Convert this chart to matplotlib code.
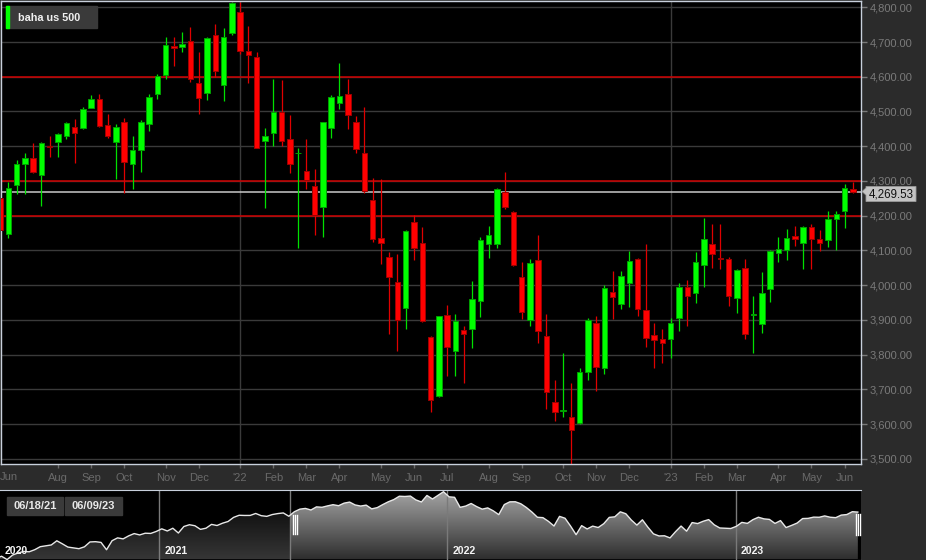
import numpy as np
import pandas as pd
import matplotlib
matplotlib.use("Agg")
import matplotlib.pyplot as plt
import matplotlib.dates as mdates
from matplotlib.patches import PathPatch, Rectangle, Polygon
from matplotlib.path import Path
from matplotlib.lines import Line2D

plt.rcParams['font.family'] = ['Liberation Sans', 'DejaVu Sans']

# ---------------- data ----------------
title = "baha us 500"
first_week = "2021-06-14"
opens = [4250, 4146, 4287, 4348, 4367, 4318, 4401, 4413, 4428, 4456,
         4452, 4511, 4535, 4460, 4413, 4470, 4350, 4388, 4464, 4549,
         4605, 4688, 4686, 4702, 4583, 4552, 4719, 4576, 4725, 4786,
         4675, 4656, 4416, 4437, 4499, 4420, 4379, 4329, 4284, 4226,
         4453, 4525, 4550, 4470, 4381, 4245, 4136, 4081, 4010, 3933,
         4182, 4120, 3851, 3682, 3913, 3809, 3872, 3875, 3954, 4117,
         4117, 4267, 4211, 4022, 3901, 4073, 3854, 3663, 3639, 3620,
         3604, 3750, 3891, 3760, 3980, 3946, 4005, 4075, 3928, 3856,
         3846, 3845, 3905, 3994, 3976, 4058, 4119, 4079, 4076, 3963,
         4049, 3913, 3889, 3988, 4092, 4101, 4142, 4120, 4168, 4133,
         4130, 4190, 4214, 4277]
highs = [4262, 4298, 4359, 4380, 4408, 4413, 4429, 4439, 4471, 4477,
         4512, 4548, 4549, 4492, 4463, 4480, 4428, 4476, 4549, 4608,
         4715, 4714, 4728, 4742, 4670, 4715, 4751, 4739, 4814, 4816,
         4746, 4672, 4452, 4593, 4591, 4489, 4394, 4420, 4333, 4470,
         4548, 4639, 4593, 4487, 4512, 4308, 4305, 4095, 4090, 4160,
         4202, 4166, 3853, 3912, 3942, 3916, 3881, 4012, 4138, 4169,
         4280, 4325, 4214, 4068, 4074, 4143, 3916, 3726, 3804, 3717,
         3761, 3905, 3912, 3999, 4040, 4042, 4099, 4077, 4119, 3890,
         3874, 3905, 4005, 4015, 4094, 4192, 4175, 4175, 4082, 4045,
         4076, 3970, 4037, 4101, 4140, 4161, 4171, 4170, 4175, 4159,
         4213, 4213, 4290, 4296]
lows = [4152, 4135, 4261, 4261, 4322, 4229, 4370, 4370, 4420, 4351,
        4449, 4509, 4455, 4425, 4305, 4266, 4276, 4327, 4444, 4535,
        4593, 4631, 4670, 4584, 4492, 4533, 4598, 4530, 4721, 4665,
        4581, 4394, 4221, 4402, 4401, 4324, 4106, 4277, 4144, 4138,
        4423, 4506, 4449, 4380, 4266, 4123, 4060, 3858, 3809, 3873,
        4072, 3895, 3636, 3679, 3737, 3739, 3719, 3818, 3909, 4077,
        4106, 4218, 4056, 3902, 3883, 3833, 3644, 3610, 3619, 3482,
        3600, 3727, 3696, 3743, 3902, 3930, 3936, 3910, 3823, 3761,
        3777, 3791, 3869, 3883, 3948, 3996, 4048, 4046, 3940, 3919,
        3844, 3806, 3863, 3950, 4068, 4071, 4113, 4047, 4046, 4097,
        4109, 4101, 4164, 4264]
closes = [4159, 4279, 4348, 4367, 4325, 4408, 4397, 4434, 4466, 4439,
          4507, 4535, 4459, 4430, 4454, 4355, 4388, 4469, 4543, 4602,
          4691, 4684, 4695, 4593, 4538, 4711, 4617, 4715, 4811, 4675,
          4662, 4396, 4429, 4498, 4415, 4348, 4381, 4303, 4202, 4469,
          4542, 4544, 4490, 4391, 4271, 4132, 4122, 4023, 3900, 4156,
          4106, 3898, 3670, 3910, 3822, 3897, 3860, 3961, 4129, 4144,
          4277, 4226, 4058, 3924, 4065, 3868, 3692, 3636, 3641, 3584,
          3750, 3899, 3763, 3991, 3965, 4026, 4070, 3932, 3848, 3841,
          3834, 3891, 3996, 3970, 4068, 4133, 4090, 4075, 3969, 4044,
          3859, 3916, 3978, 4098, 4103, 4136, 4132, 4168, 4133, 4122,
          4190, 4204, 4280, 4269.53]

# navigator history before the candle window (weekly closes, from 2020-06-08)
nav_start_week = "2020-06-08"
nav_history = [3041, 3098, 3009, 3130, 3185, 3225, 3216, 3271, 3351, 3373,
               3397, 3508, 3427, 3341, 3319, 3298, 3348, 3477, 3484, 3465,
               3270, 3510, 3585, 3558, 3638, 3699, 3663, 3709, 3703, 3756,
               3825, 3768, 3841, 3714, 3887, 3934, 3907, 3811, 3842, 3943,
               3913, 3975, 4020, 4129, 4185, 4180, 4181, 4233, 4174, 4156,
               4204, 4230, 4247]
level_lines = [4600, 4300, 4200]
price_ticks = list(range(3500, 4801, 100))
range_labels = ["06/18/21", "06/09/23"]
nav_years = ["2020", "2021", "2022", "2023"]

# ---------------- figure ----------------
W, H = 926, 560
BG = '#2b2b2b'
fig = plt.figure(figsize=(W / 100, H / 100), dpi=100, facecolor=BG)


def fx(px):
    return px / W


def fy(py):
    return 1 - py / H


ax = fig.add_axes([fx(1), fy(463.5), fx(861) - fx(1), fy(1) - fy(463.5)])
ax.set_facecolor('black')

n = len(closes)
idx = np.arange(n)
o = np.array(opens, float)
h = np.array(highs, float)
l = np.array(lows, float)
c = np.array(closes, float)
up = c >= o

GREEN, GREEN_E = '#00ff00', '#00a000'
RED, RED_E = '#ff0000', '#a00000'

# grid
for v in price_ticks:
    ax.axhline(v, color='#3a3a3a', lw=1.0, zorder=1)

dates = pd.date_range(first_week, periods=n, freq='W-MON')
fridays = dates + pd.Timedelta(days=4)
xt, xl = [], []
for i in range(1, n):
    if fridays[i].month != fridays[i - 1].month and i > 3:
        xt.append(i)
        if fridays[i].month == 1:
            xl.append("'" + fridays[i].strftime('%y'))
            ax.axvline(i, color='#3a3a3a', lw=1.0, zorder=1)
        else:
            xl.append(fridays[i].strftime('%b'))

for v in level_lines:
    ax.axhline(v, color='#d00000', lw=1.1, zorder=1.5)
ax.axhline(c[-1], color='#c8c8c8', lw=1.1, zorder=1.6)

# candles
wcol = np.where(up, '#00e000', '#e00000')
ax.vlines(idx, l, h, colors=wcol, lw=0.9, zorder=2)
body_bottom = np.minimum(o, c)
body_h = np.maximum(np.abs(c - o), 2.5)
ax.bar(idx, body_h, bottom=body_bottom, width=0.66,
       color=np.where(up, GREEN, RED), edgecolor=np.where(up, GREEN_E, RED_E),
       linewidth=0.7, zorder=3)

ax.set_xlim((1 - 0.02) / 8.28, (861 - 0.02) / 8.28)
ax.set_ylim(3486.4, 4818.1)

ax.yaxis.tick_right()
ax.set_yticks(price_ticks)
ax.set_yticklabels([f"{v:,.2f}" for v in price_ticks])
ax.tick_params(axis='y', colors='#7a7a7a', labelsize=8, length=4, width=1, pad=2)
ax.set_xticks(xt)
ax.set_xticklabels(xl)
ax.tick_params(axis='x', colors='#6a6a6a', labelsize=8, length=3, width=1, pad=4)
for s in ax.spines.values():
    s.set_color('#c8d0dc')
    s.set_linewidth(1.0)
fig.text(fx(0), fy(477), dates[0].strftime('%b'), color='#6a6a6a', fontsize=8,
         ha='left', va='center')

# title box
fig.add_artist(Rectangle((fx(6), fy(28)), fx(97) - fx(6), fy(6) - fy(28),
                         transform=fig.transFigure, color='#3a3a3a', zorder=5))
fig.add_artist(Rectangle((fx(6), fy(28)), fx(9.3) - fx(6), fy(6) - fy(28),
                         transform=fig.transFigure, color='#00ff00', zorder=6))
fig.text(fx(18), fy(18), title, color='#f0f0f0', fontsize=7.8, weight='bold',
         ha='left', va='center', zorder=7)

# current price label
fig.canvas.draw()
yp = ax.transData.transform((0, c[-1]))[1]
yc = yp - 2.5
pts = [(862, yp), (866, yp + 3.5), (866, yc + 7.5), (916, yc + 7.5),
       (916, yc - 7.5), (866, yc - 7.5), (866, yp - 3.5)]
fig.add_artist(Polygon([(px / W, py / H) for px, py in pts], closed=True,
                       transform=fig.transFigure, facecolor='#c4c4c4',
                       edgecolor='#9a9a9a', linewidth=0.6, zorder=8))
fig.text(fx(891), yc / H, f"{c[-1]:,.2f}", color='#111111', fontsize=8.3,
         ha='center', va='center', zorder=9)

# ---------------- navigator ----------------
nav = fig.add_axes([0, fy(559.5), fx(861), fy(490) - fy(559.5)])
nav.set_facecolor('black')
nav_dates = list(pd.date_range(nav_start_week, periods=len(nav_history), freq='W-MON')) + list(dates)
nav_vals = np.array(list(nav_history) + list(closes), float)
nx = mdates.date2num(nav_dates)
xmin = mdates.date2num(pd.Timestamp('2020-06-13'))
xmax = mdates.date2num(pd.Timestamp('2023-06-09'))
ymin, ymax = 3011, 4856
sel = mdates.date2num(pd.Timestamp('2021-06-16'))

verts = [(nx[0], ymin)] + list(zip(nx, nav_vals)) + [(nx[-1], ymin)]
clip = PathPatch(Path(verts), transform=nav.transData, facecolor='none', edgecolor='none')
nav.add_patch(clip)


def grad(bottom, top):
    t = np.linspace(0, 1, 256)[:, None, None]
    b = np.array(matplotlib.colors.to_rgb(bottom))[None, None, :]
    tp = np.array(matplotlib.colors.to_rgb(top))[None, None, :]
    return b + (tp - b) * t


im1 = nav.imshow(grad('#363636', '#000000'), extent=[nx[0], sel, ymin, ymax],
                 origin='lower', aspect='auto', zorder=1, interpolation='bilinear')
im1.set_clip_path(clip)
im2 = nav.imshow(grad('#2e2e2e', '#a8a8a8'), extent=[sel, nx[-1], ymin, ymax],
                 origin='lower', aspect='auto', zorder=1, interpolation='bilinear')
im2.set_clip_path(clip)
nav.plot(nx, nav_vals, color='#e8e8e8', lw=1.0, zorder=3)

for yr in nav_years[1:]:
    nav.axvline(mdates.date2num(pd.Timestamp(f'{yr}-01-01')), color='#7a7a7a', lw=1, zorder=2)
nav.axvline(sel, color='#7a7a7a', lw=1, zorder=2)
for yr in nav_years:
    xd = max(mdates.date2num(pd.Timestamp(f'{yr}-01-01')), xmin)
    nav.annotate(yr, xy=(xd, 0), xycoords=('data', 'axes fraction'),
                 xytext=(5, 4), textcoords='offset pixels', color='#f4f4f4',
                 fontsize=7.6, weight='bold', ha='left', va='bottom', zorder=5)

nav.set_xlim(xmin, xmax)
nav.set_ylim(ymin, ymax)
nav.set_xticks([])
nav.set_yticks([])
for k, s in nav.spines.items():
    s.set_visible(k in ('top', 'bottom'))
nav.spines['top'].set_color('#c8d0dc')
nav.spines['bottom'].set_color('#9aa2ae')

# range date boxes
for (x0, x1), txt in zip([(7, 63), (65, 122)], range_labels):
    fig.add_artist(Rectangle((fx(x0), fy(515)), fx(x1) - fx(x0), fy(497) - fy(515),
                             transform=fig.transFigure, color='#3a3a3a', zorder=10))
    fig.text(fx((x0 + x1) / 2), fy(506), txt, color='#e8e8e8', fontsize=8,
             weight='bold', ha='center', va='center', zorder=11)

# handles
for xs, (ya, yb) in [((293.3, 295.3, 297.3), (515, 534)), ((855.7, 857.7, 859.7), (514, 535))]:
    for xh in xs:
        fig.add_artist(Line2D([fx(xh), fx(xh)], [fy(ya), fy(yb)], transform=fig.transFigure,
                              color='white', lw=1.0, zorder=12))

fig.savefig('out.png', dpi=100, facecolor=BG)
